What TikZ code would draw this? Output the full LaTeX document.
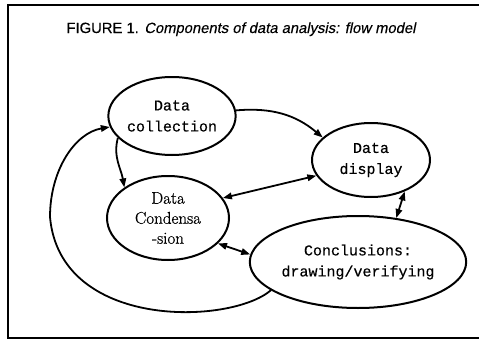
\documentclass[tikz,border=0pt]{standalone}
\usepackage{fontspec}
\newfontfamily\titlefont[FakeBold=0.3]{Liberation Sans}
\newfontfamily\monofont[FakeBold=0.45]{Liberation Mono}
\newfontfamily\nodeserif[FakeBold=0.7]{Latin Modern Roman}
\usetikzlibrary{shapes.geometric,arrows.meta}
\tikzset{
  ell/.style={draw, ellipse, line width=2pt, inner sep=0pt, align=center,
    font=\monofont\fontsize{15}{21}\selectfont},
  serifell/.style={ell, font=\nodeserif\fontsize{17}{20}\selectfont},
  tip/.tip={Triangle[length=9pt,width=6.5pt]},
  conn/.style={line width=1.8pt, -tip},
  dconn/.style={line width=1.8pt, tip-tip},
  frame/.style={line width=1.8pt}
}
\begin{document}
\begin{tikzpicture}[x=1pt,y=-1pt]
\useasboundingbox (0,0) rectangle (479,340);
\draw[frame] (479,5) -- (8,5) -- (8,338) -- (479,338);
\node[anchor=base, font=\titlefont\fontsize{14.8}{16}\selectfont] (title) at (241,33)
  {FIGURE 1. {\addfontfeature{FakeSlant=0.2}Components of data analysis: flow model}};
\node[ell, minimum width=116pt, minimum height=78pt] (coll) at (172,116) {Data\\collection};
\node[ell, minimum width=118pt, minimum height=74pt] (disp) at (371,160) {Data\\display};
\node[serifell, minimum width=122pt, minimum height=84pt] (cond) at (168,218) {Data\\Condensa\\-sion};
\node[ell, minimum width=172pt, minimum height=92pt] (concl) at (358,262) {Conclusions:\\drawing/verifying};
\draw[conn] (coll.5) to[out=5, in=140] (disp.155);
\draw[conn] (coll.202) to[out=255, in=100] (cond.145);
\draw[dconn] (cond.20) -- (disp.196);
\draw[dconn] (disp.317) -- (concl.49);
\draw[dconn] (cond.333) -- (concl.176);
\draw[conn] (concl.198) .. controls (230,325) and (60,330) .. (50,217)
  .. controls (50,170) and (75,133) .. (coll.190);
\end{tikzpicture}
\end{document}
